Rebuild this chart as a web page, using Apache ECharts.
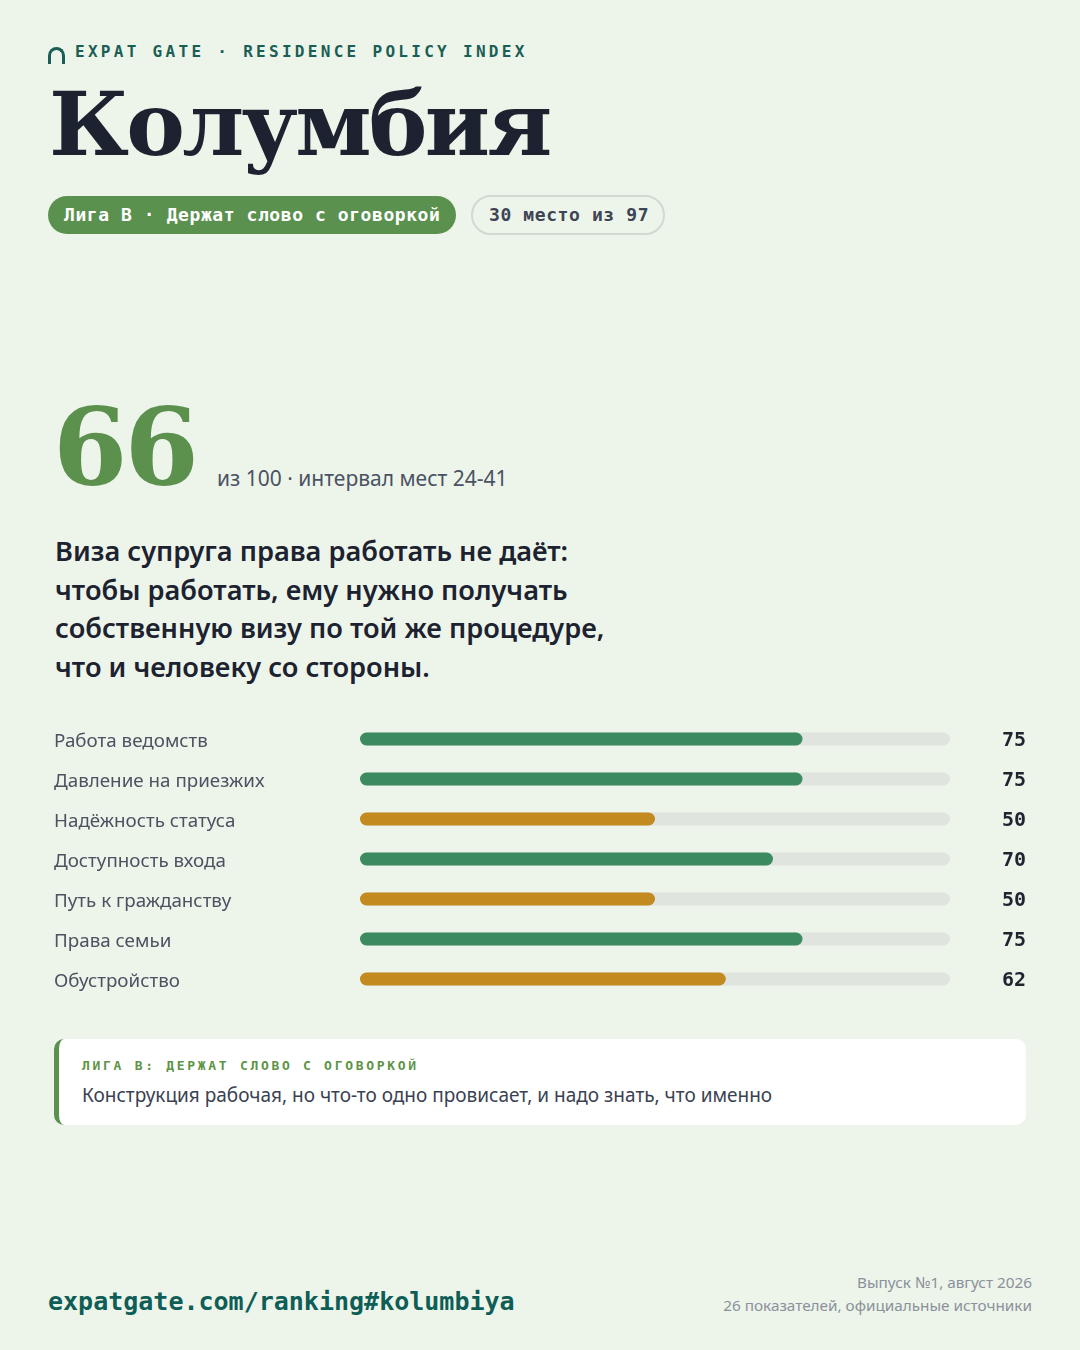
<!DOCTYPE html>
<html lang="ru">
<head>
<meta charset="utf-8">
<title>Колумбия — Residence Policy Index</title>
<script src="https://cdn.jsdelivr.net/npm/echarts/dist/echarts.min.js"></script>
<style>
  html, body { margin: 0; padding: 0; }
  body {
    width: 1080px; height: 1350px; position: relative; overflow: hidden;
    background: #edf4e9; font-family: "Noto Sans", sans-serif; color: #1c2230;
  }
  .abs { position: absolute; white-space: nowrap; }
  .mono { font-family: "DejaVu Sans Mono", monospace; font-weight: bold; }
  #brand { left: 75px; top: 42px; font-size: 16px; letter-spacing: 3.3px; color: #1a5e55; }
  #arch {
    left: 48px; top: 47px; width: 11px; height: 14px;
    border: 3px solid #1a5e55; border-bottom: none; border-radius: 9px 9px 0 0;
  }
  #title {
    left: 49px; top: 74px; font-family: "DejaVu Serif", serif; font-weight: bold;
    font-size: 88px; letter-spacing: -2.75px; color: #1c2230; line-height: 1.15;
  }
  .pill { top: 196px; height: 38px; line-height: 38px; border-radius: 20px; font-size: 18px; box-sizing: border-box; }
  #league { left: 48px; width: 408px; padding-left: 16px; background: #5b914f; color: #ffffff; letter-spacing: 0.57px; }
  #rank { left: 471px; top: 195px; height: 40px; line-height: 36px; width: 194px; padding-left: 16px;
          border: 2px solid #d2d9d1; color: #3d4555; letter-spacing: 0.6px; }
  #score { left: 53px; top: 393px; font-family: "DejaVu Serif", serif; font-weight: bold;
           font-size: 107px; line-height: 1; color: #5b914d; letter-spacing: -3px; }
  #scoreNote { left: 217px; top: 464px; font-size: 21px; color: #4a5263; }
  #lead { left: 55px; top: 532px; font-size: 27.2px; font-weight: 600; line-height: 38.7px; color: #1c2230; }
  #chart { position: absolute; left: 0; top: 719px; width: 1080px; height: 280px; }
  #note {
    left: 54px; top: 1039px; width: 972px; height: 86px; background: #ffffff;
    border-radius: 10px; border-left: 5px solid #5b914f; box-sizing: border-box;
  }
  #noteHead { left: 23px; top: 19px; font-size: 13px; letter-spacing: 2.7px; color: #5e9446; }
  #noteText { left: 23px; top: 43px; font-size: 19px; color: #3a4252; }
  #url { left: 48px; top: 1287px; font-size: 25px; color: #0e5e57; }
  #meta { right: 48px; top: 1271px; text-align: right; font-size: 15.3px; line-height: 23px; color: #8a919c; }
</style>
</head>
<body>
<div class="abs" id="arch"></div>
<div class="abs mono" id="brand">EXPAT GATE · RESIDENCE POLICY INDEX</div>
<div class="abs" id="title">Колумбия</div>
<div class="abs mono pill" id="league">Лига В · Держат слово с оговоркой</div>
<div class="abs mono pill" id="rank">30 место из 97</div>

<div class="abs" id="score">66</div>
<div class="abs" id="scoreNote">из 100 · интервал мест 24-41</div>

<div class="abs" id="lead">Виза супруга права работать не даёт:<br>чтобы работать, ему нужно получать<br>собственную визу по той же процедуре,<br>что и человеку со стороны.</div>

<div id="chart"></div>

<div class="abs" id="note">
  <div class="abs mono" id="noteHead">ЛИГА В: ДЕРЖАТ СЛОВО С ОГОВОРКОЙ</div>
  <div class="abs" id="noteText">Конструкция рабочая, но что-то одно провисает, и надо знать, что именно</div>
</div>

<div class="abs mono" id="url">expatgate.com/ranking#kolumbiya</div>
<div class="abs" id="meta">Выпуск №1, август 2026<br>26 показателей, официальные источники</div>

<script>
// pillar scores, top to bottom
const categories = [
  'Работа ведомств',
  'Давление на приезжих',
  'Надёжность статуса',
  'Доступность входа',
  'Путь к гражданству',
  'Права семьи',
  'Обустройство'
];
const scores = [75, 75, 50, 70, 50, 75, 62];

const GREEN = '#3c8a5f';
const AMBER = '#c28a1f';

const chart = echarts.init(document.getElementById('chart'));

chart.setOption({
  animation: false,
  grid: { left: 360, right: 130, top: 0, bottom: 0 },
  xAxis: { type: 'value', min: 0, max: 100, show: false },
  yAxis: [
    {
      type: 'category',
      data: categories,
      inverse: true,
      axisLine: { show: false },
      axisTick: { show: false },
      axisLabel: {
        align: 'left',
        margin: 306,
        formatter: v => '{t|' + v + '}',
        rich: {
          t: {
            padding: [6, 0, 0, 0],
            fontFamily: 'Noto Sans',
            fontSize: 18.8,
            color: '#4b5262'
          }
        }
      }
    },
    {
      type: 'category',
      position: 'right',
      data: scores.map(String),
      inverse: true,
      axisLine: { show: false },
      axisTick: { show: false },
      axisLabel: {
        align: 'right',
        margin: 76,
        formatter: v => '{n|' + v + '}',
        rich: {
          n: {
            padding: [4, 0, 0, 0],
            fontFamily: 'DejaVu Sans Mono',
            fontWeight: 'bold',
            fontSize: 20,
            color: '#1e2430'
          }
        }
      }
    }
  ],
  series: [{
    type: 'bar',
    data: scores.map(v => ({
      value: v,
      itemStyle: { color: v >= 65 ? GREEN : AMBER }
    })),
    barWidth: 13,
    itemStyle: { borderRadius: 7 },
    showBackground: true,
    backgroundStyle: { color: '#dfe4df', borderRadius: 7 }
  }]
});
</script>
</body>
</html>
